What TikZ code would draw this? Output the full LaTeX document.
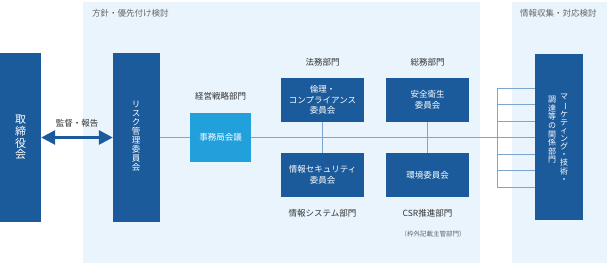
\documentclass[tikz,border=0pt]{standalone}
\usepackage{fontspec}
\setmainfont{Noto Sans CJK JP}
\usetikzlibrary{arrows.meta}
\definecolor{dblue}{HTML}{1B5A9B}
\definecolor{lblue}{HTML}{22A0DC}
\definecolor{panelbg}{HTML}{E9F4FC}
\definecolor{linec}{HTML}{7AA6D0}
\definecolor{labgray}{HTML}{666666}
\definecolor{labdark}{HTML}{333333}
\newcommand{\tatebar}{\rotatebox[origin=c]{-90}{ー}}
\tikzset{
  box/.style={rectangle, fill=dblue, text=white, inner sep=0pt, align=center,
    font=\fontsize{8.5}{10.5}\selectfont},
  jbox/.style={box, fill=lblue},
  vtext/.style={text=white, inner sep=0pt, align=center},
  dept/.style={text=labdark, inner sep=0pt, font=\fontsize{8.5}{10}\selectfont},
  plabel/.style={text=labgray, inner sep=0pt, anchor=west, font=\fontsize{8.5}{10}\selectfont},
  conn/.style={draw=linec, line width=0.9pt},
}
\begin{document}
\begin{tikzpicture}[x=1pt,y=-1pt]
\useasboundingbox (0,0) rectangle (607,265);
% panels
\fill[panelbg] (83,2) rectangle (480,263);
\fill[panelbg] (512,2) rectangle (607,263);
\node[plabel] (pl1) at (92,13) {方針・優先付け検討};
\node[plabel] (pl2) at (520,13) {情報収集・対応検討};

% boxes
\node[box, minimum width=41pt, minimum height=169pt] (board) at (20.5,137.5) {};
\node[box, minimum width=47pt, minimum height=169pt] (risk) at (136.5,137.5) {};
\node[jbox, minimum width=61pt, minimum height=49pt] (jimu) at (220.5,137.5) {事務局会議};
\node[box, minimum width=83pt, minimum height=44pt] (ethic) at (322.5,100) {倫理・\\コンプライアンス\\委員会};
\node[box, minimum width=83pt, minimum height=44pt] (safety) at (427.5,100) {安全衛生\\委員会};
\node[box, minimum width=83pt, minimum height=44pt] (infosec) at (322.5,175) {情報セキュリティ\\委員会};
\node[box, minimum width=83pt, minimum height=44pt] (env) at (427.5,175) {環境委員会};
\node[box, minimum width=48pt, minimum height=166pt] (mkt) at (559,137) {};

% vertical texts
\node[vtext, font=\fontsize{11}{11.7}\selectfont] (boardt) at (board.center) {取\\締\\役\\会};
\node[vtext, font=\fontsize{8.5}{9}\selectfont] (riskt) at (136,136) {リ\\ス\\ク\\管\\理\\委\\員\\会};
\node[vtext, anchor=north, font=\fontsize{8}{8.1}\selectfont] (mktr) at (564,94) {マ\\\tatebar\\ケ\\テ\\ィ\\ン\\グ\\・\\技\\術\\・};
\node[vtext, anchor=north, font=\fontsize{8}{8.6}\selectfont] (mktl) at (552,96) {調\\達\\等\\の\\関\\係\\部\\門};

% labels
\node[dept] (l0) at (77,123) {監督・報告};
\node[dept] (l1) at (220.5,96) {経営戦略部門};
\node[dept] (l2) at (322.5,62) {法務部門};
\node[dept] (l3) at (427.5,62) {総務部門};
\node[dept] (l4) at (322.5,213) {情報システム部門};
\node[dept] (l5) at (427.5,213) {CSR推進部門};
\node[text=labgray, inner sep=0pt, font=\fontsize{6.5}{8}\selectfont] (l6) at (433,234) {（枠外記載主管部門）};

% arrow
\draw[dblue, line width=3pt, {Triangle[length=14pt,width=14pt]}-{Triangle[length=14pt,width=14pt]}] (board.east) -- (risk.west);

% connectors
\coordinate (comb) at (497,137.5);
\coordinate (ct) at (497,88);
\coordinate (cb) at (497,187);
\draw[conn] (risk.east) -- (jimu.west);
\draw[conn] (jimu.east) -- (comb);
\draw[conn] (ethic.south) -- (infosec.north);
\draw[conn] (safety.south) -- (env.north);
\draw[conn] (ct) -- (cb);
\foreach \yy in {88,104.5,121,137.5,154,170.5,187}{
  \coordinate (cc) at (497,\yy);
  \draw[conn] (cc) -- (cc -| mkt.west);
}
\end{tikzpicture}
\end{document}
